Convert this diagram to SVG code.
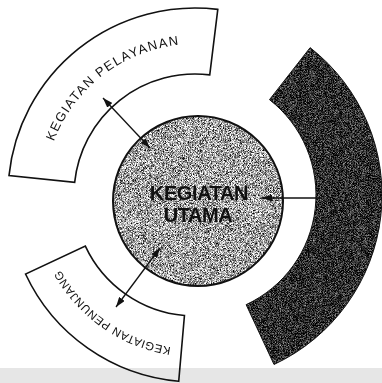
<svg xmlns="http://www.w3.org/2000/svg" width="382" height="383" viewBox="0 0 382 383">
<style>
.band{fill:#ffffff;stroke:#111;stroke-width:1.6;stroke-linejoin:miter}
.lbl{font-family:"Liberation Sans",Arial,sans-serif;fill:#111}
.arrow{stroke:#111;stroke-width:1.3;fill:none}
.main{font-family:"Liberation Sans",Arial,sans-serif;font-weight:bold;font-size:20px;fill:#111;text-anchor:middle;letter-spacing:-0.4px}
</style>
<defs>
<marker id="ah" viewBox="0 0 10 7" refX="10" refY="3.5" markerWidth="10" markerHeight="7" markerUnits="userSpaceOnUse" orient="auto-start-reverse">
<path d="M0,0 L10,3.5 L0,7 z" fill="#111"/>
</marker>
<filter id="speckLight" x="0" y="0" width="100%" height="100%" color-interpolation-filters="sRGB">
<feTurbulence type="fractalNoise" baseFrequency="1.4" numOctaves="1" seed="4" result="n"/>
<feColorMatrix in="n" type="matrix" values="2.6 0 0 0 -0.66  2.6 0 0 0 -0.66  2.6 0 0 0 -0.66  0 0 0 0 1" result="g"/>
<feComposite in="g" in2="SourceGraphic" operator="in"/>
</filter>
<filter id="speckDark" x="0" y="0" width="100%" height="100%" color-interpolation-filters="sRGB">
<feTurbulence type="fractalNoise" baseFrequency="1.4" numOctaves="1" seed="9" result="n"/>
<feColorMatrix in="n" type="matrix" values="1.6 0 0 0 -0.62  1.6 0 0 0 -0.62  1.6 0 0 0 -0.62  0 0 0 0 1" result="g"/>
<feComposite in="g" in2="SourceGraphic" operator="in"/>
</filter>
<path id="tpTop" d="M 46.29 168.78 A 151 151 0 0 1 208.16 44.58"/>
<path id="tpBot" d="M 195 349 A 154 154 0 0 1 50.3 247.7"/>
</defs>
<rect width="382" height="383" fill="#ffffff"/>

<g id="kegiatan-pelayanan">
<path class="band" d="M 9.02 175.45 A 187 187 0 0 1 217.79 9.39 L 209.75 74.90 A 121 121 0 0 0 74.66 182.35 Z"/>
<text class="lbl" font-size="13" letter-spacing="1.3"><textPath href="#tpTop" startOffset="50%" text-anchor="middle">KEGIATAN PELAYANAN</textPath></text>
</g>

<g id="kegiatan-penunjang">
<path class="band" d="M 184.45 315.54 A 121 121 0 0 1 85.34 246.14 L 25.52 274.03 A 187 187 0 0 0 178.70 381.29 Z"/>
<text class="lbl" font-size="11.5" letter-spacing="0.5"><textPath href="#tpBot" startOffset="50%" text-anchor="middle">KEGIATAN PENUNJANG</textPath></text>
</g>

<g id="dark-band">
<path d="M 269.49 99.65 L 310.13 47.64 A 187 187 0 0 1 274.03 364.48 L 246.14 304.66 A 121 121 0 0 0 269.49 99.65 Z" fill="#2a2a2a" filter="url(#speckDark)"/>
<path d="M 269.49 99.65 L 310.13 47.64 A 187 187 0 0 1 274.03 364.48 L 246.14 304.66 A 121 121 0 0 0 269.49 99.65 Z" fill="none" stroke="#111" stroke-width="1"/>
</g>

<g id="kegiatan-utama">
<circle cx="198" cy="201" r="85" fill="#a6a6a6" filter="url(#speckLight)"/>
<circle cx="198" cy="201" r="85" fill="none" stroke="#111" stroke-width="2"/>
<text class="main" x="199" y="200">KEGIATAN</text>
<text class="main" x="198" y="222">UTAMA</text>
</g>

<g id="connectors">
<line class="arrow" x1="103" y1="98" x2="150" y2="148" marker-start="url(#ah)" marker-end="url(#ah)"/>
<line class="arrow" x1="160" y1="248" x2="116" y2="307" marker-start="url(#ah)" marker-end="url(#ah)"/>
<line class="arrow" x1="322" y1="198" x2="262" y2="198" marker-end="url(#ah)"/>
</g>
<rect x="0" y="368" width="382" height="15" fill="#e6e6e6" style="mix-blend-mode:multiply"/>
</svg>
